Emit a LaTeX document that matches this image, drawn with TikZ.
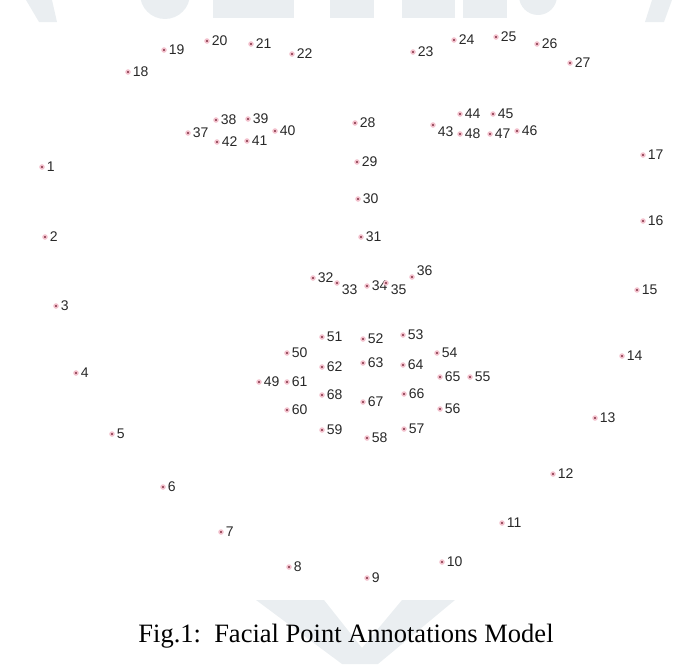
\documentclass[tikz,border=0pt]{standalone}
\usepackage{fontspec}
\setmainfont{Liberation Serif}
\setsansfont{Liberation Sans}
\usetikzlibrary{positioning}

\definecolor{ptred}{RGB}{150,75,92}
\definecolor{ptpink}{RGB}{242,192,204}
\definecolor{lblgray}{RGB}{40,40,40}
\definecolor{wmark}{RGB}{234,238,241}

\tikzset{
  pt/.style={circle, fill=ptred, draw=ptpink, line width=1.4pt, inner sep=0pt, minimum size=4pt},
  every label/.style={font=\sffamily\fontsize{14}{14}\selectfont, text=lblgray, inner sep=0.5pt},
}

\begin{document}
\begin{tikzpicture}[x=1pt, y=-1pt, label distance=1.5pt]
  \useasboundingbox (0,0) rectangle (682,664);

  % faint watermark
  \begin{scope}
    \clip (0,0) rectangle (682,664);
    \fill[wmark] (26,0) -- (52,0) -- (57,22) -- (39,22) -- cycle;
    \fill[wmark] (165,-6) circle (25);
    \fill[wmark] (213,0) rectangle (294,18);
    \fill[wmark] (330,0) rectangle (374,18);
    \fill[wmark] (402,0) rectangle (455,18);
    \fill[wmark] (463,0) rectangle (507,18);
    \fill[wmark] (538,-4) circle (19);
    \fill[wmark] (652,0) -- (672,0) -- (664,22) -- (645,22) -- cycle;
    \fill[wmark] (256,600) -- (324,600) -- (362,648) -- (402,600)
      -- (455,600) -- (378,664) -- (342,664) -- cycle;
  \end{scope}

  % jaw line
  \node[pt, label=right:1] (p1) at (42,167) {};
  \node[pt, label=right:2] (p2) at (45,237) {};
  \node[pt, label=right:3] (p3) at (56,306) {};
  \node[pt, label=right:4] (p4) at (76,373) {};
  \node[pt, label=right:5] (p5) at (112,434) {};
  \node[pt, label=right:6] (p6) at (163,487) {};
  \node[pt, label=right:7] (p7) at (221,532) {};
  \node[pt, label=right:8] (p8) at (289,567) {};
  \node[pt, label=right:9] (p9) at (367,578) {};
  \node[pt, label=right:10] (p10) at (442,562) {};
  \node[pt, label=right:11] (p11) at (502,523) {};
  \node[pt, label=right:12] (p12) at (553,474) {};
  \node[pt, label=right:13] (p13) at (595,418) {};
  \node[pt, label=right:14] (p14) at (622,356) {};
  \node[pt, label=right:15] (p15) at (637,290) {};
  \node[pt, label=right:16] (p16) at (643,221) {};
  \node[pt, label=right:17] (p17) at (643,155) {};

  % brows
  \node[pt, label=right:18] (p18) at (128,72) {};
  \node[pt, label=right:19] (p19) at (164,50) {};
  \node[pt, label=right:20] (p20) at (207,41) {};
  \node[pt, label=right:21] (p21) at (251,44) {};
  \node[pt, label=right:22] (p22) at (292,54) {};
  \node[pt, label=right:23] (p23) at (413,52) {};
  \node[pt, label=right:24] (p24) at (454,40) {};
  \node[pt, label=right:25] (p25) at (496,37) {};
  \node[pt, label=right:26] (p26) at (537,44) {};
  \node[pt, label=right:27] (p27) at (570,63) {};

  % nose
  \node[pt, label=right:28] (p28) at (355,123) {};
  \node[pt, label=right:29] (p29) at (357,162) {};
  \node[pt, label=right:30] (p30) at (358,199) {};
  \node[pt, label=right:31] (p31) at (361,237) {};
  \node[pt, label=right:32] (p32) at (313,278) {};
  \node[pt, label=-15:33] (p33) at (337,283) {};
  \node[pt, label=right:34] (p34) at (367,286) {};
  \node[pt, label=-10:35] (p35) at (386,283) {};
  \node[pt, label=10:36] (p36) at (412,277) {};

  % eyes
  \node[pt, label=right:37] (p37) at (188,133) {};
  \node[pt, label=right:38] (p38) at (216,120) {};
  \node[pt, label=right:39] (p39) at (248,119) {};
  \node[pt, label=right:40] (p40) at (275,131) {};
  \node[pt, label=right:41] (p41) at (247,141) {};
  \node[pt, label=right:42] (p42) at (217,142) {};
  \node[pt, label=-15:43] (p43) at (433,125) {};
  \node[pt, label=right:44] (p44) at (460,114) {};
  \node[pt, label=right:45] (p45) at (493,114) {};
  \node[pt, label=right:46] (p46) at (517,131) {};
  \node[pt, label=right:47] (p47) at (490,134) {};
  \node[pt, label=right:48] (p48) at (460,134) {};

  % mouth
  \node[pt, label=right:49] (p49) at (259,382) {};
  \node[pt, label=right:50] (p50) at (287,353) {};
  \node[pt, label=right:51] (p51) at (322,337) {};
  \node[pt, label=right:52] (p52) at (363,339) {};
  \node[pt, label=right:53] (p53) at (403,335) {};
  \node[pt, label=right:54] (p54) at (437,353) {};
  \node[pt, label=right:55] (p55) at (470,377) {};
  \node[pt, label=right:56] (p56) at (440,409) {};
  \node[pt, label=right:57] (p57) at (404,429) {};
  \node[pt, label=right:58] (p58) at (367,438) {};
  \node[pt, label=right:59] (p59) at (322,430) {};
  \node[pt, label=right:60] (p60) at (287,410) {};
  \node[pt, label=right:61] (p61) at (287,382) {};
  \node[pt, label=right:62] (p62) at (322,367) {};
  \node[pt, label=right:63] (p63) at (363,363) {};
  \node[pt, label=right:64] (p64) at (403,365) {};
  \node[pt, label=right:65] (p65) at (440,377) {};
  \node[pt, label=right:66] (p66) at (404,394) {};
  \node[pt, label=right:67] (p67) at (363,402) {};
  \node[pt, label=right:68] (p68) at (322,395) {};

  \node[font=\rmfamily\fontsize{26.5}{30}\selectfont, anchor=base, inner sep=0pt] (caption) at (346,642) {Fig.1:\ \ Facial Point Annotations Model};
\end{tikzpicture}
\end{document}
